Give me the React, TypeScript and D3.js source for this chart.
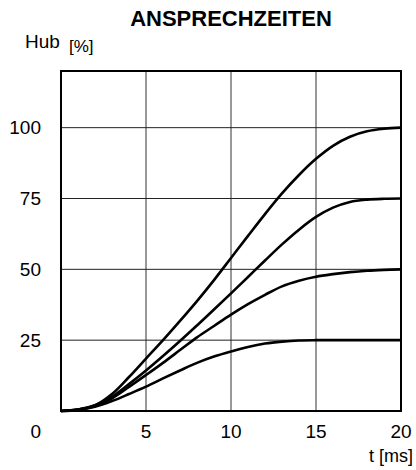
import React from "react";
import * as d3 from "d3";

const times = [0, 1, 2, 3, 4, 5, 6, 7, 8, 9, 10, 11, 12, 13, 14, 15, 16, 17, 18, 19, 20];
const stroke100 = [0, 0.5, 2, 6, 12, 18.5, 25, 31.8, 38.8, 46.2, 54, 61.8, 69.5, 76.8, 83.3, 89, 93.6, 96.8, 98.7, 99.6, 100];
const stroke75 = [0, 0.5, 2, 5, 9.5, 14.3, 19.4, 24.7, 30.2, 35.8, 41.5, 47.3, 53.1, 58.8, 64, 68.5, 71.8, 73.8, 74.6, 74.9, 75];
const stroke50 = [0, 0.5, 1.8, 4.5, 8.5, 12.7, 17, 21.5, 26, 30, 34, 37.7, 41, 44, 46, 47.4, 48.3, 49, 49.5, 49.8, 50];
const stroke25 = [0, 0.4, 1.5, 3.5, 6, 8.6, 11.5, 14.3, 17, 19.2, 21, 22.6, 23.8, 24.5, 24.9, 25, 25, 25, 25, 25, 25];
const seriesList = [stroke100, stroke75, stroke50, stroke25];

const xTicks = [5, 10, 15, 20];
const yTicks = [25, 50, 75, 100];
const xGrid = [5, 10, 15];
const yGrid = [25, 50, 75, 100];

const title = "ANSPRECHZEITEN";
const yLabel = "Hub";
const yUnit = "[%]";
const xLabel = "t [ms]";

export default function App() {
  const W = 416;
  const H = 470;
  const left = 61, right = 401, top = 71, bottom = 411;
  const x = d3.scaleLinear().domain([0, 20]).range([left, right]);
  const y = d3.scaleLinear().domain([0, 120]).range([bottom, top]);
  const line = d3
    .line<number>()
    .x((_, i) => x(times[i]))
    .y((d) => y(d))
    .curve(d3.curveCatmullRom.alpha(0.5));
  const font = "'Liberation Sans', Arial, sans-serif";
  return (
    <svg
      width={W}
      height={H}
      style={{ position: "absolute", left: 0, top: 0, background: "#fff" }}
      fontFamily={font}
    >
      <rect x={0} y={0} width={W} height={H} fill="#fff" />
      <text x={231} y={26} textAnchor="middle" fontWeight="bold" fontSize={22} fill="#000">
        {title}
      </text>
      <text x={25} y={48} fontSize={19} fill="#000">{yLabel}</text>
      <text x={69} y={52} fontSize={17} fill="#000">{yUnit}</text>
      {xGrid.map((v) => (
        <line key={"xg" + v} x1={x(v)} x2={x(v)} y1={top} y2={bottom} stroke="#333" strokeWidth={1} />
      ))}
      {yGrid.map((v) => (
        <line key={"yg" + v} x1={left} x2={right} y1={y(v)} y2={y(v)} stroke="#222" strokeWidth={1} />
      ))}
      {seriesList.map((s, i) => (
        <path key={"s" + i} d={line(s) || ""} fill="none" stroke="#000" strokeWidth={2.6} strokeLinejoin="round" />
      ))}
      <rect x={left} y={top} width={right - left} height={bottom - top} fill="none" stroke="#000" strokeWidth={2} />
      {yTicks.map((v) => (
        <text key={"yt" + v} x={41} y={y(v)} dy="0.35em" textAnchor="end" fontSize={19} fill="#000">
          {v}
        </text>
      ))}
      <text x={41} y={438} textAnchor="end" fontSize={19} fill="#000">0</text>
      {xTicks.map((v) => (
        <text key={"xt" + v} x={x(v)} y={438} textAnchor="middle" fontSize={19} fill="#000">
          {v}
        </text>
      ))}
      <text x={413} y={462} textAnchor="end" fontSize={18} fill="#000">{xLabel}</text>
    </svg>
  );
}
